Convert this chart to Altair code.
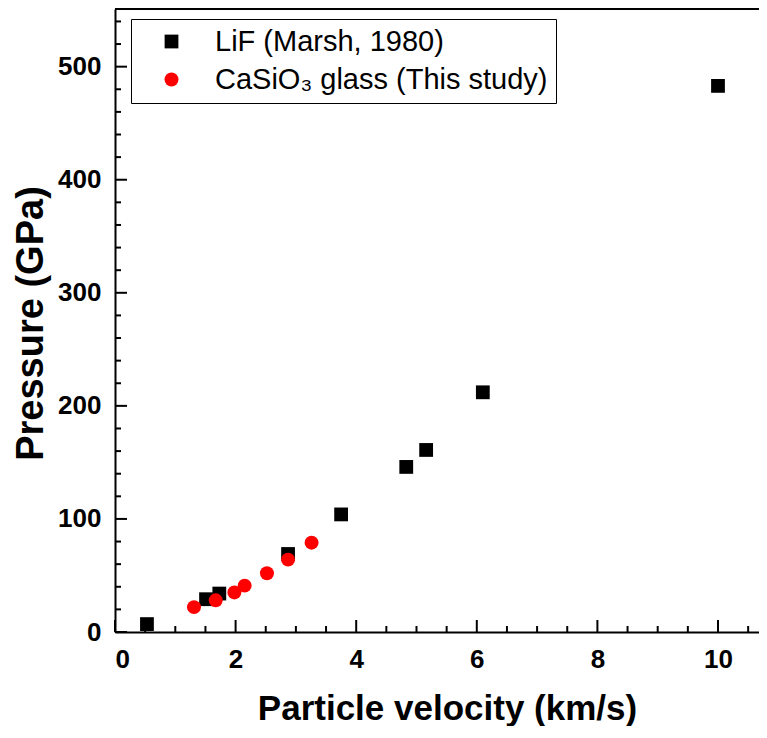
import altair as alt
import pandas as pd

# LiF (Marsh, 1980)
lif_u = [0.53, 1.51, 1.73, 2.87, 3.75, 4.83, 5.16, 6.10, 10.0]
lif_p = [7, 29, 34, 69, 104, 146, 161, 212, 483]
# CaSiO3 glass (This study)
cas_u = [1.31, 1.67, 1.98, 2.15, 2.52, 2.87, 3.26]
cas_p = [22, 28, 35, 41, 52, 64, 79]

series = ["LiF (Marsh, 1980)", "CaSiO₃ glass (This study)"]
x_major = [0, 2, 4, 6, 8, 10]
x_minor = [0.5, 1, 1.5, 2.5, 3, 3.5, 4.5, 5, 5.5, 6.5, 7, 7.5, 8.5, 9, 9.5, 10.5]
y_major = [0, 100, 200, 300, 400, 500]
y_minor = [v for v in range(20, 560, 20) if v % 100 != 0]

X_MAX = 10.68
Y_MAX = 551
W, H = 644, 623
FONT = "Liberation Sans"

df = pd.DataFrame({
    "u": lif_u + cas_u,
    "p": lif_p + cas_p,
    "s": [series[0]] * len(lif_u) + [series[1]] * len(cas_u),
})

xs = alt.Scale(domain=[0, X_MAX], nice=False, zero=False)
ys = alt.Scale(domain=[0, Y_MAX], nice=False, zero=False)

points = alt.Chart(df).mark_point(filled=True, opacity=1, strokeWidth=0).encode(
    x=alt.X("u:Q", scale=xs, axis=alt.Axis(
        title="Particle velocity (km/s)", values=x_major, format="d", ticks=False, grid=False,
        labelFontSize=26, labelFont=FONT, labelFontWeight="bold", labelPadding=14,
        labelColor="black", titleFontSize=35, titleFont=FONT, titleFontWeight="bold",
        titleColor="black", titleX=332, titleY=87, titleBaseline="alphabetic",
        titleAlign="center", titleAnchor="middle",
        domainColor="black", domainWidth=2)),
    y=alt.Y("p:Q", scale=ys, axis=alt.Axis(
        title="Pressure (GPa)", values=y_major, format="d", ticks=False, grid=False,
        labelFontSize=26, labelFont=FONT, labelFontWeight="bold", labelPadding=14,
        labelColor="black", titleFontSize=38, titleFont=FONT, titleFontWeight="bold",
        titleColor="black", titleX=-84, titleY=314, titleBaseline="middle",
        titleAlign="center", titleAnchor="middle",
        domainColor="black", domainWidth=2)),
    color=alt.Color("s:N", scale=alt.Scale(domain=series, range=["black", "#ff0000"]),
                    legend=alt.Legend(title=None, orient="none", legendX=16, legendY=10,
                                      labelFontSize=29, labelFont=FONT, labelColor="black",
                                      strokeColor="black", padding=8, symbolOffset=18,
                                      labelOffset=29, rowPadding=8, symbolSize=180,
                                      labelLimit=600, fillColor="white")),
    shape=alt.Shape("s:N", scale=alt.Scale(domain=series, range=["square", "circle"])),
    size=alt.Size("s:N", scale=alt.Scale(domain=series, range=[190, 195]), legend=None),
    order=alt.Order("o:Q"),
).transform_calculate(o="datum.s == 'LiF (Marsh, 1980)' ? 0 : 1")

xmaj = alt.Chart(pd.DataFrame({"v": x_major})).mark_rule(color="black", strokeWidth=2).encode(
    x=alt.X("v:Q", scale=xs), y=alt.value(H), y2=alt.value(H - 12))
xmin = alt.Chart(pd.DataFrame({"v": x_minor})).mark_rule(color="black", strokeWidth=2).encode(
    x=alt.X("v:Q", scale=xs), y=alt.value(H), y2=alt.value(H - 6))
ymaj = alt.Chart(pd.DataFrame({"v": y_major})).mark_rule(color="black", strokeWidth=2).encode(
    y=alt.Y("v:Q", scale=ys), x=alt.value(0), x2=alt.value(12))
ymin = alt.Chart(pd.DataFrame({"v": y_minor})).mark_rule(color="black", strokeWidth=2).encode(
    y=alt.Y("v:Q", scale=ys), x=alt.value(0), x2=alt.value(6))
top = alt.Chart(pd.DataFrame({"v": [Y_MAX]})).mark_rule(color="black", strokeWidth=2).encode(
    y=alt.Y("v:Q", scale=ys))

chart = alt.layer(xmaj, xmin, ymaj, ymin, top, points).properties(
    width=W, height=H,
    autosize=alt.AutoSizeParams(type="none"),
    padding={"left": 107, "top": 1, "right": 0, "bottom": 94},
).configure_view(stroke=None).configure(background="white")

chart.save("out.html", embed_options={"renderer": "svg", "actions": False})
